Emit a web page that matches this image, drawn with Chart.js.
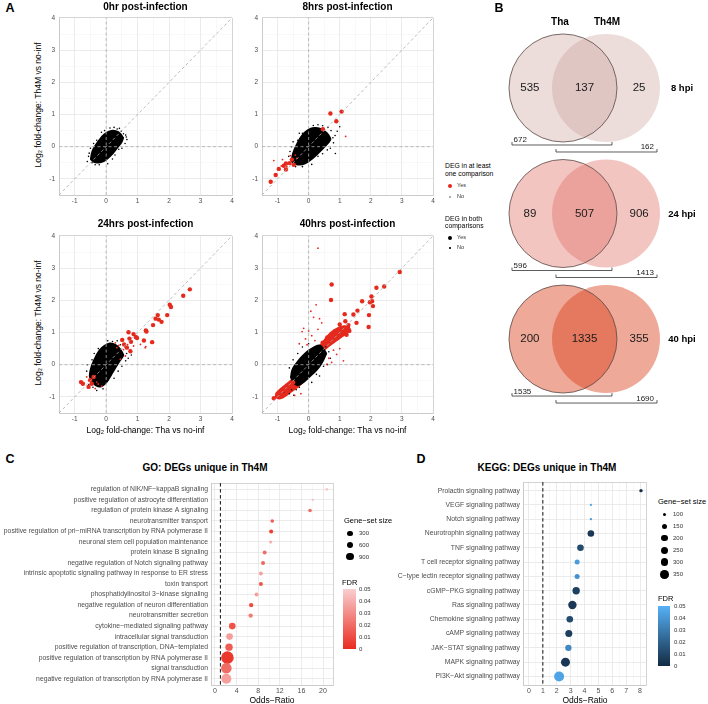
<!DOCTYPE html>
<html>
<head>
<meta charset="utf-8">
<script src="https://cdn.jsdelivr.net/npm/chart.js@4.4.1/dist/chart.umd.min.js"></script>
<style>
html,body{margin:0;padding:0;background:#fff;}
body{width:708px;height:704px;position:relative;overflow:hidden;font-family:"Liberation Sans",Arial,Helvetica,sans-serif;}
canvas{position:absolute;}
.lbl{position:absolute;white-space:nowrap;line-height:1;color:#000;}
.dot{position:absolute;border-radius:50%;}
.bar{position:absolute;}
</style>
</head>
<body>
<script>
// ================= DATA =================
// Panel A: log2 fold-change (x: Tha vs no-inf, y: Th4M vs no-inf)
const scatterTickLabels = [-1, 0, 1, 2, 3, 4];
const scatterMinorTicks = [-1.5, -0.5, 0.5, 1.5, 2.5, 3.5];

// 0 hr
const hr0CoreUpper = [[-0.52,-0.4],[-0.47,-0.15],[-0.36,0.06],[-0.22,0.25],[-0.08,0.4],[0.06,0.49],[0.2,0.53],[0.34,0.5],[0.47,0.42],[0.57,0.28]];
const hr0CoreLower = [[-0.52,-0.4],[-0.42,-0.49],[-0.28,-0.52],[-0.13,-0.5],[0.02,-0.42],[0.16,-0.3],[0.3,-0.14],[0.43,0.02],[0.52,0.14],[0.57,0.28]];
const hr0NotDEG = [[-0.6,-0.46],[-0.56,-0.3],[-0.5,-0.05],[0.62,0.36],[0.66,0.22],[0.42,0.57],[0.25,0.6],[-0.05,0.5],[0.2,-0.38],[0.5,-0.05],[-0.35,-0.56],[0.05,-0.53],[-0.3,0.2],[0.6,0.1],[-0.45,-0.5],[0.35,0.55],[-0.15,0.45],[0.55,0.4],[-0.54,-0.2],[-0.4,0.1],[0.12,0.58],[0.48,0.48],[0.4,-0.08],[0.28,-0.26],[-0.22,-0.56],[0.64,0.3]];
const hr0DEGboth = [];
const hr0DEGone = [];

// 8 hr
const hr8CoreUpper = [[-0.58,-0.45],[-0.53,-0.2],[-0.42,0.05],[-0.28,0.3],[-0.12,0.48],[0.04,0.58],[0.2,0.61],[0.37,0.59],[0.53,0.5],[0.66,0.38],[0.74,0.24]];
const hr8CoreLower = [[-0.58,-0.45],[-0.47,-0.55],[-0.3,-0.58],[-0.12,-0.55],[0.05,-0.45],[0.22,-0.32],[0.4,-0.15],[0.55,0.0],[0.67,0.12],[0.74,0.24]];
const hr8NotDEG = [[0.85,0.35],[0.8,0.12],[0.92,0.48],[0.62,0.6],[0.3,0.68],[-0.2,0.42],[-0.64,-0.3],[-0.42,-0.62],[0.86,-0.21],[0.45,-0.22],[1.0,0.62],[-0.7,-0.55],[0.7,-0.05],[0.1,-0.55],[-0.35,0.2],[0.15,0.66],[-0.55,0.0],[0.6,-0.1],[-0.5,0.15],[-0.3,0.42],[0.45,0.65],[0.78,0.28],[0.3,-0.3],[-0.2,-0.62],[0.72,0.5],[-0.6,-0.15]];
const hr8DEGboth = [[0.70,1.03],[1.06,1.09],[0.89,0.79],[0.46,0.54],[-1.22,-1.09],[-1.06,-0.88],[-0.96,-0.69],[-0.80,-0.59],[-0.73,-0.71],[-0.61,-0.51],[-0.54,-0.40],[-0.48,-0.56],[-0.73,-0.52]];
const hr8DEGone = [[1.19,0.32],[-1.12,-0.43],[-0.84,-0.40],[-0.43,-0.26],[-0.59,-0.28],[-0.38,-0.36],[-0.7,-0.62],[-0.88,-0.6]];

// 24 hr
const hr24CoreUpper = [[-0.56,-0.35],[-0.51,-0.1],[-0.41,0.15],[-0.29,0.38],[-0.15,0.55],[0.0,0.65],[0.15,0.69],[0.3,0.64],[0.42,0.55],[0.52,0.42],[0.58,0.3]];
const hr24CoreLower = [[-0.56,-0.35],[-0.46,-0.55],[-0.32,-0.68],[-0.18,-0.71],[-0.05,-0.64],[0.08,-0.5],[0.2,-0.3],[0.32,-0.1],[0.45,0.1],[0.54,0.22],[0.58,0.3]];
const hr24NotDEG = [[0.65,0.35],[0.7,0.2],[0.6,0.55],[0.35,0.74],[0.05,0.74],[-0.25,0.5],[-0.62,-0.2],[-0.55,-0.62],[-0.3,-0.8],[0.25,-0.42],[0.75,0.45],[0.5,-0.05],[0.8,0.3],[-0.45,0.15],[-0.1,-0.75],[0.2,0.72],[-0.6,0.0],[-0.38,0.35],[0.45,0.62],[0.62,0.12],[0.38,-0.2],[-0.42,-0.7]];
const hr24DEGboth = [[2.66,2.34],[2.45,2.14],[2.02,1.86],[2.06,1.79],[1.94,1.54],[1.64,1.54],[1.57,1.43],[1.67,1.40],[1.76,1.33],[1.49,1.23],[1.26,1.06],[1.28,1.03],[1.46,0.70],[1.20,0.75],[0.71,1.01],[0.87,0.95],[0.94,0.86],[0.74,0.81],[0.79,0.71],[0.98,0.83],[0.51,0.77],[0.57,0.63],[0.66,0.53],[0.77,0.42],[-0.80,-0.54],[-0.74,-0.59],[-0.51,-0.48],[-0.46,-0.59],[-0.56,-0.69],[-0.40,-0.38]];
const hr24DEGone = [[1.26,0.56],[0.29,0.68],[0.34,0.53],[0.55,0.47],[0.61,0.27],[0.45,0.17],[-0.35,-0.74],[-0.14,-0.67],[-0.62,-0.38],[-0.3,-0.54],[0.87,0.58],[1.09,0.63],[1.24,0.53],[0.4,0.6],[0.68,0.62],[-0.25,-0.6]];

// 40 hr
const hr40CoreUpper = [[-0.6,-0.4],[-0.55,-0.15],[-0.42,0.05],[-0.28,0.22],[-0.12,0.38],[0.05,0.5],[0.22,0.6],[0.38,0.62],[0.5,0.5],[0.6,0.35]];
const hr40CoreLower = [[-0.6,-0.4],[-0.5,-0.58],[-0.35,-0.66],[-0.2,-0.6],[-0.05,-0.48],[0.12,-0.33],[0.28,-0.18],[0.42,0.0],[0.52,0.18],[0.6,0.35]];
const hr40UpBandUpper = [[0.3,0.55],[0.5,0.8],[0.7,1.02],[0.9,1.15],[1.1,1.22],[1.3,1.2],[1.36,1.1]];
const hr40UpBandLower = [[0.3,0.55],[0.45,0.42],[0.7,0.58],[0.9,0.72],[1.1,0.86],[1.3,1.0],[1.36,1.1]];
const hr40DownBandUpper = [[-1.1,-1.0],[-1.04,-0.85],[-0.85,-0.68],[-0.65,-0.52],[-0.45,-0.36],[-0.3,-0.28],[-0.15,-0.4]];
const hr40DownBandLower = [[-1.1,-1.0],[-0.95,-1.08],[-0.75,-1.0],[-0.55,-0.86],[-0.35,-0.72],[-0.2,-0.58],[-0.15,-0.4]];
const hr40NotDEG = [[-0.7,-0.72],[-0.55,-0.78],[-0.4,-0.78],[-0.62,-0.9],[0.1,-0.55],[0.35,-0.35],[0.6,0.0],[0.7,0.2],[-0.35,0.35],[-0.2,0.55],[0.0,0.65],[0.55,0.55],[-0.8,-0.85],[-0.48,-0.95],[-0.62,-0.1],[-0.5,0.15],[0.25,-0.3],[0.48,-0.05],[0.65,0.4],[-0.3,-0.7]];
const hr40DEGboth = [[2.93,2.88],[2.43,2.43],[2.18,2.39],[2.02,2.12],[2.04,1.97],[1.97,1.94],[2.07,1.82],[1.72,1.97],[1.94,1.54],[1.93,1.17],[1.57,1.68],[1.44,1.56],[1.54,1.30],[1.16,1.57],[1.18,1.35],[0.74,2.49],[0.72,2.01],[1.28,1.23],[1.31,1.05],[1.22,0.93],[1.0,1.25],[0.85,1.05],[1.1,1.12],[-1.12,-1.04],[-1.0,-0.9],[-0.9,-0.97],[-0.8,-0.8],[-0.7,-0.75],[-0.6,-0.66],[-0.5,-0.55],[0.6,0.85],[0.45,0.68]];
const hr40DEGone = [[0.3,3.62],[-0.21,1.03],[0.16,1.47],[0.24,1.86],[0.35,1.43],[0.07,1.66],[-0.16,1.13],[0.42,1.3],[0.3,1.1],[0.1,0.9],[-0.1,0.8],[0.0,1.05],[1.12,0.12],[0.74,0.07],[0.59,0.02],[0.9,0.32],[0.8,0.45],[1.0,0.5],[0.65,0.2],[-0.3,0.65],[-0.25,-0.9],[-0.45,-0.95],[0.2,0.75],[-0.05,0.62]];

// Panel B: Venn counts
const vennLabels = ['8 hpi', '24 hpi', '40 hpi'];
const onlyTha  = [535, 89, 200];
const bothSets = [137, 507, 1335];
const onlyTh4M = [25, 906, 355];

// Panel C: GO
const goTerms = ['regulation of NIK/NF\u2212kappaB signaling','positive regulation of astrocyte differentiation','regulation of protein kinase A signaling','neurotransmitter transport','positive regulation of pri\u2212miRNA transcription by RNA polymerase II','neuronal stem cell population maintenance','protein kinase B signaling','negative regulation of Notch signaling pathway','intrinsic apoptotic signaling pathway in response to ER stress','toxin transport','phosphatidylinositol 3\u2212kinase signaling','negative regulation of neuron differentiation','neurotransmitter secretion','cytokine\u2212mediated signaling pathway','intracellular signal transduction','positive regulation of transcription, DNA\u2212templated','positive regulation of transcription by RNA polymerase II','signal transduction','negative regulation of transcription by RNA polymerase II'];
const goOdds = [20.7,18.1,17.6,10.6,10.4,10.3,9.2,8.9,8.5,8.5,7.7,6.7,6.6,3.2,2.7,2.6,2.3,2.1,2.1];
const goSize = [20,10,75,75,115,35,115,115,100,115,110,165,165,600,600,840,3250,2140,1840];
const goFdr  = [0.048,0.045,0.02,0.015,0.006,0.04,0.02,0.018,0.035,0.012,0.035,0.01,0.025,0.012,0.035,0.015,0.004,0.02,0.035];
const goXTicks = [0,4,8,12,16,20];
const goSizeBreaks = [300,600,900];

// Panel D: KEGG
const keggTerms = ['Prolactin signaling pathway','VEGF signaling pathway','Notch signaling pathway','Neurotrophin signaling pathway','TNF signaling pathway','T cell receptor signaling pathway','C\u2212type lectin receptor signaling pathway','cGMP\u2212PKG signaling pathway','Ras signaling pathway','Chemokine signaling pathway','cAMP signaling pathway','JAK\u2212STAT signaling pathway','MAPK signaling pathway','PI3K\u2212Akt signaling pathway'];
const keggOdds = [8.07,4.46,4.46,4.46,3.71,3.47,3.47,3.40,3.13,2.94,2.87,2.84,2.63,2.17];
const keggSize = [100,85,85,218,218,145,145,265,334,218,241,207,381,468];
const keggFdr  = [0.002,0.045,0.04,0.005,0.012,0.042,0.038,0.008,0.005,0.012,0.007,0.035,0.005,0.045];
const keggXTicks = [0,1,2,3,4,5,6,7,8];
const keggSizeBreaks = [100,150,200,250,300,350];
const fdrBreaks = [0.05,0.04,0.03,0.02,0.01,0];

// ================= STYLE =================
const FAM = '"Liberation Sans", Arial, Helvetica, sans-serif';
const GRID_MAJOR = '#e2e2e2', GRID_MINOR = '#efefef', EDGE = '#c9c9c9';
const RED = '#e5291d', REF = '#ababab';
const GO_LOW = [234,43,31], GO_HIGH = [249,207,208];
const KG_LOW = [19,43,67], KG_HIGH = [86,177,247];

Chart.defaults.font.family = FAM;
Chart.defaults.animation = false;
Chart.defaults.events = [];
Chart.defaults.layout.autoPadding = false;
Chart.defaults.plugins.legend.display = false;
Chart.defaults.plugins.tooltip.enabled = false;

function lerpCol(a,b,t){ t=Math.max(0,Math.min(1,t)); return 'rgb('+a.map((v,i)=>Math.round(v+(b[i]-v)*t)).join(',')+')'; }
const goCol = f => lerpCol(GO_LOW, GO_HIGH, f/0.05);
const kgCol = f => lerpCol(KG_LOW, KG_HIGH, f/0.05);
const rGO = s => 1.05*(1+5*Math.sqrt(Math.max(0,(s-10)/(3250-10))));
const rKG = s => 0.833*(1+5*Math.sqrt(Math.max(0,(s-83)/(468-83))));

function txt(s,x,y,o){
  o=o||{};
  const d=document.createElement('div'); d.className='lbl'; d.textContent=s;
  d.style.fontSize=(o.size||8)+'px';
  if(o.bold) d.style.fontWeight='bold';
  d.style.color=o.color||'#000';
  const ax=o.align==='left'?'0%':(o.align==='right'?'-100%':'-50%');
  d.style.left=x+'px'; d.style.top=y+'px';
  d.style.transform='translate('+ax+',-50%)'+(o.rot?' rotate('+o.rot+'deg)':'');
  document.body.appendChild(d);
}
function dot(x,y,r,col){
  const d=document.createElement('div'); d.className='dot';
  Object.assign(d.style,{left:(x-r)+'px',top:(y-r)+'px',width:(2*r)+'px',height:(2*r)+'px',background:col});
  document.body.appendChild(d);
}
function placeCanvas(L,T,R,B,yW,xH,padT,padR){
  const c=document.createElement('canvas');
  const left=L-yW, top=T-padT, w=R-left+padR, h=B-top+xH;
  c.width=w; c.height=h;
  Object.assign(c.style,{left:left+'px',top:top+'px',width:w+'px',height:h+'px'});
  document.body.appendChild(c);
  return c;
}
const pts = a => a.map(p=>({x:p[0],y:p[1]}));

// ================= PANEL A =================
const scatTicks = scatterTickLabels.concat(scatterMinorTicks).sort((a,b)=>a-b);
function gA(v){ if(v===-1.5||v===4) return [EDGE,0.8]; return scatterTickLabels.includes(v)?[GRID_MAJOR,0.7]:[GRID_MINOR,0.45]; }
function scatterAxis(isX, size){
  return {
    type:'linear', min:-1.5, max:4,
    afterBuildTicks:s=>{ s.ticks=scatTicks.map(v=>({value:v})); },
    afterFit:s=>{ if(isX) s.height=size; else s.width=size; },
    ticks:{autoSkip:false, maxRotation:0, padding:isX?2:4, font:{size:6.5,family:FAM}, color:'#4d4d4d',
      callback:v=>scatterTickLabels.includes(v)?String(v):''},
    grid:{drawTicks:false, color:c=>gA(c.tick.value)[0], lineWidth:c=>gA(c.tick.value)[1]},
    border:{color:EDGE,width:0.8}
  };
}
function fillPair(up,lo,col){
  return [
    {type:'line', data:pts(up), borderColor:'transparent', borderWidth:0, pointRadius:0, fill:'+1', backgroundColor:col, tension:0.35},
    {type:'line', data:pts(lo), borderColor:'transparent', borderWidth:0, pointRadius:0, fill:false, backgroundColor:col, tension:0.35}
  ];
}
function scatterPanel(L,T,R,B,d){
  const c=placeCanvas(L,T,R,B,14,12,4,4);
  const refLine = a => ({type:'line', data:pts(a), borderColor:REF, borderWidth:0.8, borderDash:[3,2.5], pointRadius:0, fill:false});
  const ds=[
    refLine([[-1.5,-1.5],[4,4]]), refLine([[0,-1.5],[0,4]]), refLine([[-1.5,0],[4,0]]),
    {type:'scatter', data:pts(d.both), pointBackgroundColor:RED, pointRadius:2.2, pointBorderWidth:0},
    {type:'scatter', data:pts(d.one), pointBackgroundColor:RED, pointRadius:0.9, pointBorderWidth:0},
    {type:'scatter', data:pts(d.none), pointBackgroundColor:'#000', pointRadius:0.8, pointBorderWidth:0}
  ].concat(fillPair(d.cu,d.cl,'#000'));
  (d.bands||[]).forEach(b=>{ fillPair(b[0],b[1],RED).forEach(x=>ds.push(x)); });
  new Chart(c,{type:'scatter', data:{datasets:ds}, options:{
    responsive:false, devicePixelRatio:1,
    layout:{autoPadding:false, padding:{top:4,right:4,left:0,bottom:0}},
    scales:{x:scatterAxis(true,12), y:scatterAxis(false,14)}
  }});
}
scatterPanel(59,14,232,195,{cu:hr0CoreUpper,cl:hr0CoreLower,none:hr0NotDEG,both:hr0DEGboth,one:hr0DEGone});
scatterPanel(262,14,433,195,{cu:hr8CoreUpper,cl:hr8CoreLower,none:hr8NotDEG,both:hr8DEGboth,one:hr8DEGone});
scatterPanel(59,232,232,413,{cu:hr24CoreUpper,cl:hr24CoreLower,none:hr24NotDEG,both:hr24DEGboth,one:hr24DEGone});
scatterPanel(262,232,433,413,{cu:hr40CoreUpper,cl:hr40CoreLower,none:hr40NotDEG,both:hr40DEGboth,one:hr40DEGone,
  bands:[[hr40UpBandUpper,hr40UpBandLower],[hr40DownBandUpper,hr40DownBandLower]]});

txt('A',10,8,{size:12.5,bold:true});
txt('0hr post-infection',145.5,7,{size:10,bold:true});
txt('8hrs post-infection',347.5,7,{size:10,bold:true});
txt('24hrs post-infection',145.5,224,{size:10,bold:true});
txt('40hrs post-infection',347.5,224,{size:10,bold:true});
txt('Log\u2082 fold-change: Th4M vs no-inf',38,104.5,{size:8.5,rot:-90});
txt('Log\u2082 fold-change: Th4M vs no-inf',38,322.5,{size:8.5,rot:-90});
txt('Log\u2082 fold-change: Tha vs no-inf',145.5,430,{size:8.5});
txt('Log\u2082 fold-change: Tha vs no-inf',347.5,430,{size:8.5});
// legend A
txt('DEG in at least',445,166,{size:6.8,align:'left'});
txt('one comparison',445,173.5,{size:6.8,align:'left'});
dot(450,186,2,RED); txt('Yes',457,186,{size:5.5,align:'left',color:'#333'});
dot(450,197,0.9,'#999'); txt('No',457,197,{size:5.5,align:'left',color:'#333'});
txt('DEG in both',445,218.5,{size:6.8,align:'left'});
txt('comparisons',445,226,{size:6.8,align:'left'});
dot(450,238,2.2,'#000'); txt('Yes',457,238,{size:5.5,align:'left',color:'#333'});
dot(450,248,0.8,'#000'); txt('No',457,248,{size:5.5,align:'left',color:'#333'});

// ================= PANEL B =================
const vennFill = ['rgba(192,142,135,0.3)','rgba(225,110,100,0.4)','rgba(217,64,26,0.45)'];
const VR = 54;
const vennPlugin = {
  id:'vennText',
  afterDatasetsDraw(chart){
    const {ctx, scales:{x,y}} = chart;
    ctx.save();
    onlyTha.forEach((v,i)=>{
      const yc=y.getPixelForValue(i), xl=x.getPixelForValue(0), xr=x.getPixelForValue(1);
      ctx.fillStyle='#1a1a1a'; ctx.textBaseline='middle'; ctx.textAlign='center';
      ctx.font='11.5px '+FAM;
      ctx.fillText(String(v), x.getPixelForValue(-0.77), yc);
      ctx.fillText(String(bothSets[i]), (xl+xr)/2, yc);
      ctx.fillText(String(onlyTh4M[i]), x.getPixelForValue(1.77), yc);
      // brackets
      ctx.strokeStyle='#333'; ctx.lineWidth=0.8;
      const b1=yc+57, b2=yc+64;
      const L1=xl-51, R1=xl+49, L2=xr-50, R2=xr+51;
      ctx.beginPath(); ctx.moveTo(L1,b1-3); ctx.lineTo(L1,b1); ctx.lineTo(R1,b1); ctx.lineTo(R1,b1-3); ctx.stroke();
      ctx.beginPath(); ctx.moveTo(L2,b2-3); ctx.lineTo(L2,b2); ctx.lineTo(R2,b2); ctx.lineTo(R2,b2-3); ctx.stroke();
      ctx.font='8px '+FAM; ctx.textBaseline='alphabetic';
      ctx.textAlign='left'; ctx.fillText(String(v+bothSets[i]), L1+1.5, b1-2.5);
      ctx.textAlign='right'; ctx.fillText(String(bothSets[i]+onlyTh4M[i]), R2-3, b2-2.5);
    });
    ctx.restore();
  }
};
(function(){
  const c=document.createElement('canvas'); c.width=248; c.height=420;
  Object.assign(c.style,{left:'460px',top:'0px',width:'248px',height:'420px'});
  document.body.appendChild(c);
  new Chart(c,{type:'bubble', data:{datasets:[
    {data:onlyTha.map((_,i)=>({x:0,y:i,r:VR})), backgroundColor:vennFill, borderColor:'#5a4a48', borderWidth:0.8},
    {data:onlyTh4M.map((_,i)=>({x:1,y:i,r:VR})), backgroundColor:vennFill, borderWidth:0}
  ]}, options:{responsive:false, devicePixelRatio:1, layout:{autoPadding:false, padding:0},
    scales:{x:{display:false,min:-2.395,max:3.372}, y:{display:false,reverse:true,min:-0.701,max:2.645}}},
    plugins:[vennPlugin]});
})();
txt('B',499,8,{size:12.5,bold:true});
txt('Tha',560,22,{size:10,bold:true});
txt('Th4M',607,22,{size:10,bold:true});
txt(vennLabels[0],682,88,{size:9.5,bold:true});
txt(vennLabels[1],682,214,{size:9.5,bold:true});
txt(vennLabels[2],682,339,{size:9.5,bold:true});

// ================= PANELS C & D =================
function dotPanel(L,T,R,B,yW,terms,odds,sizes,fdr,rFn,colFn,xMin,xMax,xMajor,xMinor){
  const c=placeCanvas(L,T,R,B,yW,12,4,4);
  const n=terms.length, yTop=-0.6, yBot=n-1+0.6;
  const yTicks=[yTop].concat(terms.map((_,i)=>i)).concat([yBot]);
  const xTicks=[xMin].concat(xMajor,xMinor).concat([xMax]).sort((a,b)=>a-b);
  const gX=v=> (v===xMin||v===xMax)?[EDGE,0.8]:(xMajor.includes(v)?[GRID_MAJOR,0.7]:[GRID_MINOR,0.45]);
  const gY=v=> (v===yTop||v===yBot)?[EDGE,0.8]:[GRID_MAJOR,0.7];
  new Chart(c,{type:'bubble', data:{datasets:[
    {data:odds.map((v,i)=>({x:v,y:i,r:rFn(sizes[i])})), backgroundColor:fdr.map(colFn), borderWidth:0},
    {type:'line', data:[{x:1,y:yTop},{x:1,y:yBot}], borderColor:'#111', borderWidth:1, borderDash:[3.5,2.5], pointRadius:0, fill:false}
  ]}, options:{responsive:false, devicePixelRatio:1,
    layout:{autoPadding:false, padding:{top:4,right:4,left:0,bottom:0}},
    scales:{
      x:{type:'linear',min:xMin,max:xMax,
        afterBuildTicks:s=>{s.ticks=xTicks.map(v=>({value:v}));}, afterFit:s=>{s.height=12;},
        ticks:{autoSkip:false,maxRotation:0,padding:2,font:{size:7,family:FAM},color:'#4d4d4d',callback:v=>xMajor.includes(v)?String(v):''},
        grid:{drawTicks:false,color:c=>gX(c.tick.value)[0],lineWidth:c=>gX(c.tick.value)[1]},
        border:{color:EDGE,width:0.8}},
      y:{type:'linear',min:yTop,max:yBot,reverse:true,
        afterBuildTicks:s=>{s.ticks=yTicks.map(v=>({value:v}));}, afterFit:s=>{s.width=yW;},
        ticks:{autoSkip:false,padding:3,font:{size:6.8,family:FAM},color:'#4d4d4d',callback:v=>Number.isInteger(v)?terms[v]:''},
        grid:{drawTicks:false,color:c=>gY(c.tick.value)[0],lineWidth:c=>gY(c.tick.value)[1]},
        border:{color:EDGE,width:0.8}}
    }}});
}
dotPanel(211,480,333,685,211,goTerms,goOdds,goSize,goFdr,rGO,goCol,-0.74,21.85,goXTicks,[2,6,10,14,18]);
dotPanel(523,479,646,685,163,keggTerms,keggOdds,keggSize,keggFdr,rKG,kgCol,-0.43,8.43,keggXTicks,[0.5,1.5,2.5,3.5,4.5,5.5,6.5,7.5]);

txt('C',10,459,{size:12.5,bold:true});
txt('D',421,459,{size:12.5,bold:true});
txt('GO: DEGs unique in Th4M',205,468,{size:10,bold:true});
txt('KEGG: DEGs unique in Th4M',547,468,{size:10,bold:true});
txt('Odds\u2212Ratio',272,700,{size:8.5});
txt('Odds\u2212Ratio',585,700,{size:8.5});

// legends C
txt('Gene\u2212set size',344,520.5,{size:7.5,align:'left'});
goSizeBreaks.forEach((s,i)=>{ const yy=533.3+i*11.7; dot(350,yy,rGO(s),'#000'); txt(String(s),359,yy,{size:6,align:'left',color:'#333'}); });
txt('FDR',342,582.5,{size:7.5,align:'left'});
(function(){ const d=document.createElement('div'); d.className='bar';
  Object.assign(d.style,{left:'343px',top:'588.5px',width:'12.5px',height:'60px',background:'linear-gradient(to bottom,'+goCol(0.05)+','+goCol(0)+')'});
  document.body.appendChild(d); })();
fdrBreaks.forEach(f=>txt(String(f),359,588.5+(0.05-f)/0.05*60,{size:6,align:'left',color:'#333'}));

// legends D
txt('Gene\u2212set size',658,501.7,{size:7.5,align:'left'});
keggSizeBreaks.forEach((s,i)=>{ const yy=514.3+i*12; dot(664.5,yy,rKG(s),'#000'); txt(String(s),673,yy,{size:6,align:'left',color:'#333'}); });
txt('FDR',658,599,{size:7.5,align:'left'});
(function(){ const d=document.createElement('div'); d.className='bar';
  Object.assign(d.style,{left:'658px',top:'606px',width:'12px',height:'60px',background:'linear-gradient(to bottom,'+kgCol(0.05)+','+kgCol(0)+')'});
  document.body.appendChild(d); })();
fdrBreaks.forEach(f=>txt(String(f),674,606+(0.05-f)/0.05*60,{size:6,align:'left',color:'#333'}));
</script>
</body>
</html>
